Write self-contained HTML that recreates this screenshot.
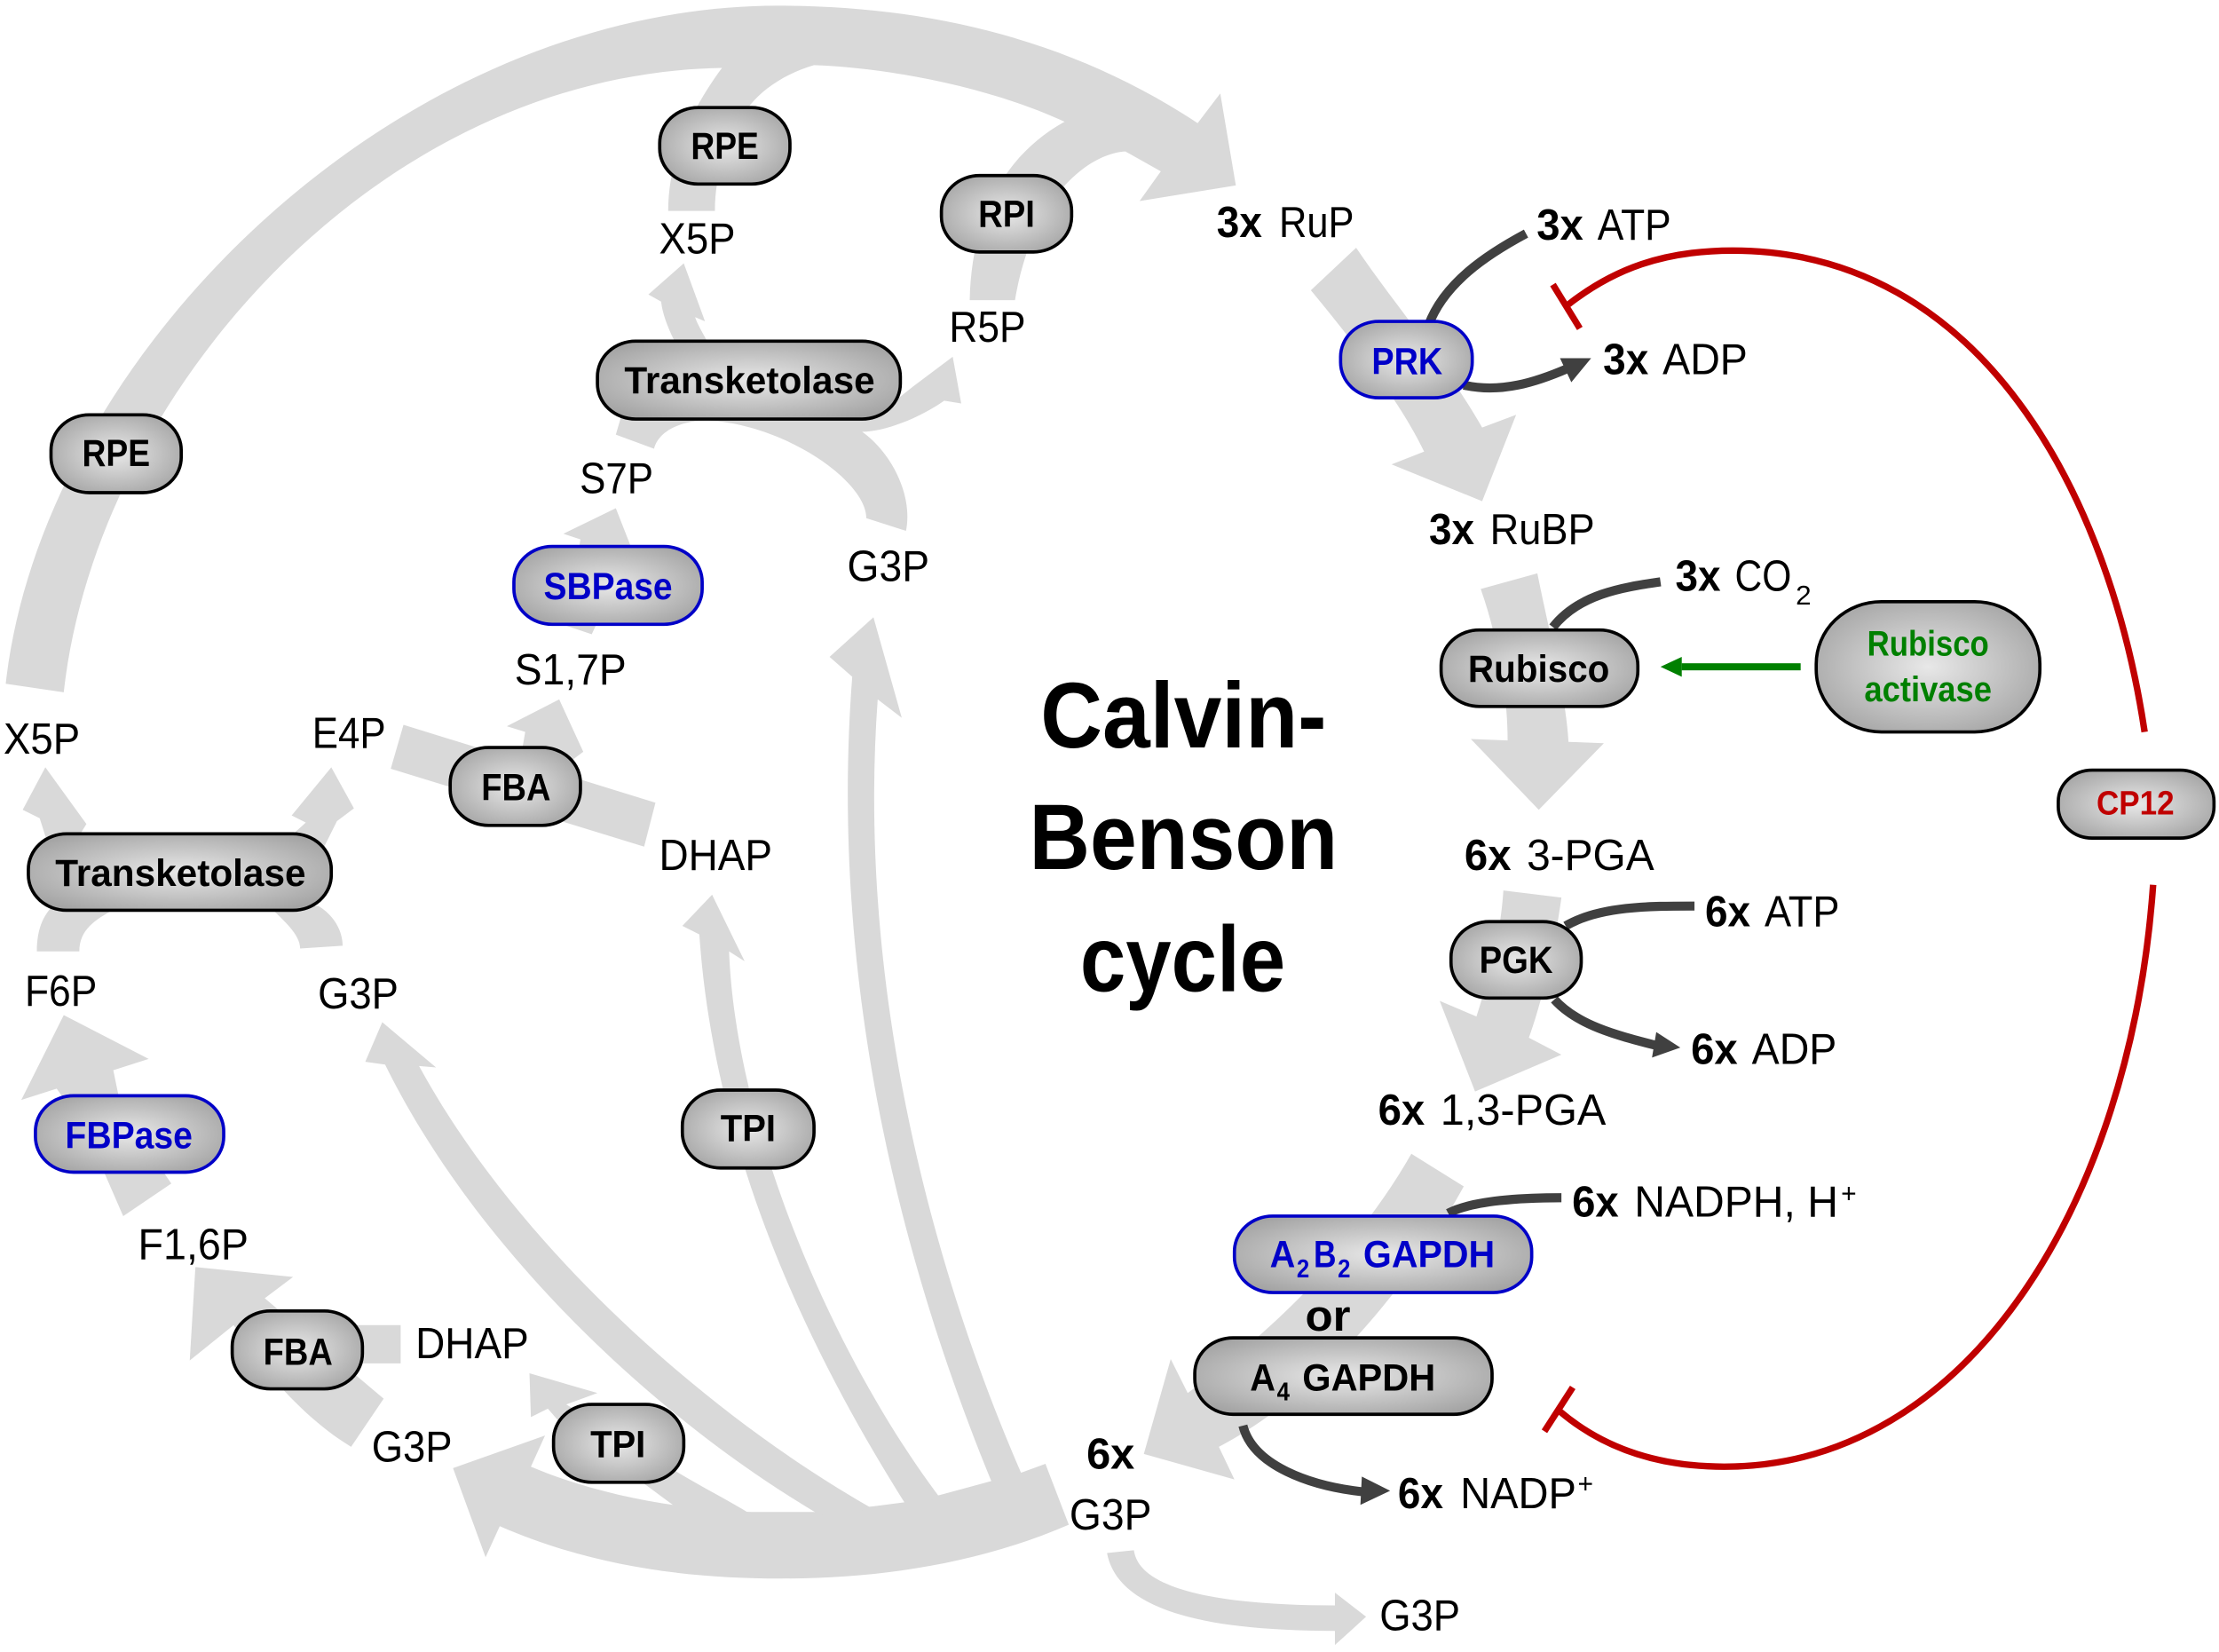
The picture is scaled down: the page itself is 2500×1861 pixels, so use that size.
<!DOCTYPE html>
<html><head><meta charset="utf-8"><title>Calvin-Benson cycle</title>
<style>
html,body{margin:0;padding:0;background:#fff}
svg{display:block}
text{font-family:"Liberation Sans",sans-serif;fill:#000}
.l{font-size:31px}
.b{font-size:31px;font-weight:bold}
.s{font-size:19px}
.n{font-size:27px;font-weight:bold}
.ns{font-size:18px;font-weight:bold}
.t{font-size:66px;font-weight:bold}
.blue{fill:#0000c8}
.green{fill:#008000}
.red{fill:#c00000}
.g{fill:#d9d9d9}
.d{fill:none;stroke:#404040;stroke-width:6.4}
.r{fill:none;stroke:#c00000;stroke-width:4.6}
.k{fill:url(#ng);stroke:#000;stroke-width:2.3}
.kb{fill:url(#ng);stroke:#0000c8;stroke-width:2.3}
</style></head><body>
<svg xmlns="http://www.w3.org/2000/svg" width="2500" height="1861" viewBox="0 0 1567.5 1166.9">
<defs><radialGradient id="ng" cx=".5" cy=".5" r=".6"><stop offset="0" stop-color="#e8e8e8"/><stop offset=".5" stop-color="#c6c6c6"/><stop offset="1" stop-color="#a4a4a4"/></radialGradient></defs>
<rect width="1567.5" height="1166.9" fill="#fff"/>

<!-- grey flux arrows -->
<path class="g" d="M4,483 C30,250 280,4 550,4 C660,4 760,30 846,87 L862,66 L873,131 L805,142 L820,121 L795,107 C772,108 730,135 717,212 L685,212 C686,160 705,112 752,86 C700,62 630,48 575,46 C555,52 540,62 530,74 C515,95 505,120 505,149 L472,149 C472,110 490,75 510,48 C265,52 68,280 45,489 Z"/>
<path class="g" d="M483,186 L498,227 L491,224 C493,230 497,236 500,242 L477,242 C472,232 468,222 467,213 L458,208 Z"/>
<path class="g" d="M440,290 L435,307 L462,317 C465,305 480,297 500,297 C555,300 612,340 612,366 L640,375 C645,350 630,320 609,305 C625,305 650,295 667,283 L679,285 L673,252 L645,273 L630,285 Z"/>
<path class="g" d="M435,359 L398,377 L410,381 L400,442 L418,448 L446,387 Z"/>
<path class="g" d="M395,494 L358,513 L371,517 L367,540 L400,540 L412,531 Z"/>
<path class="g" d="M285,512 L463,567 L455,598 L276,543 Z"/>
<path class="g" d="M32,542 L61,582 L50,600 L35,600 L28,578 L16,572 Z"/>
<path class="g" d="M234,542 L250,571 L238,580 L228,600 L195,600 L216,581 L206,576 Z"/>
<path class="g" d="M26,672 C26,650 35,638 50,632 L85,640 C70,648 56,655 56,672 Z"/>
<path class="g" d="M212,670 C212,660 200,650 190,640 L225,640 C238,648 242,660 242,668 Z"/>
<path class="g" d="M45,717 L105,748 L80,756 L87,790 L55,790 L40,769 L15,777 Z"/>
<path class="g" d="M70,820 L87,859 L121,836 L110,820 Z"/>
<path class="g" d="M138,895 L207,902 L187,917 L271,988 L248,1022 C220,1005 190,975 165,936 L134,961 Z"/>
<path class="g" d="M240,936 H283 V963 H240 Z"/>
<path class="g" d="M320,1037 L385,1014 L375,1036 C420,1055 475,1066 531,1068 L579,1068 L617,1064 L640,1061 L664,1056 L701,1046 L722,1040 L738.5,1034 L755,1077 C690,1105 620,1115 552,1115 C480,1115 415,1105 353,1078 L343,1100 Z"/>
<path class="g" d="M374,970 L422,984 L400,992 L477,1039 C495,1050 515,1060 531,1070 L478,1065 L455,1048 L400,1010 L387,995 L375,1001 Z"/>
<path class="g" d="M270,722 L308,754 L296,753 C365,880 500,1000 617,1066 L579,1070 C460,1000 335,880 272,752 L258,750 Z"/>
<path class="g" d="M503,632 L526,679 L515,672 C520,800 590,960 664,1058 L640,1063 C575,960 505,820 494,660 L482,654 Z"/>
<path class="g" d="M617,436 L637,507 L620,494 C605,700 660,900 722,1042 L701,1048 C640,900 585,700 602,478 L586,464 Z"/>
<path class="g" d="M958,175 C985,215 1020,255 1047,302 L1071,293 L1047,354 L983,328 L1006,319 C990,285 955,240 926,205 Z"/>
<path class="g" d="M1046,416 L1086,405 C1095,450 1106,490 1108,524 L1133,525 L1087,572 L1039,522 L1065,523 C1065,490 1058,450 1046,416 Z"/>
<path class="g" d="M1062,629 L1103,634 C1098,670 1090,705 1080,733 L1103,745 L1042,771 L1017,707 L1043,718 C1052,690 1060,660 1062,629 Z"/>
<path class="g" d="M997,815 L1034,838 C1000,900 940,980 861,1022 L872,1045 L808,1027 L827,960 L839,984 C900,940 960,880 997,815 Z"/>
<path class="g" d="M782,1097 L801,1095 C805,1125 870,1134 943,1134 L943,1125 L965,1142 L943,1162 L943,1152 C860,1152 790,1140 782,1097 Z"/>

<!-- dark cofactor connectors -->
<path class="d" d="M1009,230 C1020,200 1050,180 1078,165"/>
<path class="d" d="M1034,272 C1060,278 1085,270 1108,260"/>
<polygon fill="#404040" points="1124,253 1102,253 1110,270"/>
<path class="d" d="M1097,443 C1115,420 1145,415 1173,411"/>
<path class="d" d="M1106,654 C1130,640 1165,640 1197,640"/>
<path class="d" d="M1098,706 C1115,725 1145,732 1172,739"/>
<polygon fill="#404040" points="1187,740 1170,729 1167,747"/>
<path class="d" d="M1023,857 C1040,848 1075,846 1103,846"/>
<path class="d" d="M878,1007 C885,1035 925,1050 965,1054"/>
<polygon fill="#404040" points="982,1053 962,1043 961,1063"/>

<!-- green activation -->
<rect x="1188" y="468.5" width="84" height="5" fill="#008000"/>
<polygon fill="#008000" points="1173,471 1188,464 1188,478"/>

<!-- red inhibition -->
<path class="r" d="M1515,517 C1490,350 1400,177 1224,177 C1175,177 1140,190 1108,215"/>
<path class="r" d="M1097,201 L1116,232"/>
<path class="r" d="M1521,625 C1505,850 1390,1036 1218,1036 C1175,1036 1135,1025 1102,997"/>
<path class="r" d="M1111,980 L1091,1011"/>

<!-- enzyme nodes -->
<rect class="k" x="466" y="76" width="92" height="54" rx="27" ry="25"/>
<rect class="k" x="665" y="124" width="92" height="54" rx="27" ry="25"/>
<rect class="k" x="422" y="241" width="214" height="55" rx="27" ry="25"/>
<rect class="k" x="36" y="293" width="92" height="55" rx="27" ry="25"/>
<rect class="kb" x="363" y="386" width="133" height="55" rx="27" ry="25"/>
<rect class="k" x="318" y="528" width="92" height="55" rx="27" ry="25"/>
<rect class="k" x="20" y="589" width="214" height="54" rx="27" ry="25"/>
<rect class="kb" x="25" y="774" width="133" height="54" rx="27" ry="25"/>
<rect class="k" x="482" y="770" width="93" height="55" rx="27" ry="25"/>
<rect class="k" x="164" y="926" width="92" height="55" rx="27" ry="25"/>
<rect class="k" x="391" y="992" width="92" height="55" rx="27" ry="25"/>
<rect class="kb" x="947" y="227" width="93" height="54" rx="27" ry="25"/>
<rect class="k" x="1018" y="445" width="139" height="54" rx="27" ry="25"/>
<rect class="k" x="1283" y="425" width="158" height="92" rx="46" ry="44"/>
<rect class="k" x="1454" y="544" width="110" height="48" rx="24" ry="22"/>
<rect class="k" x="1025" y="651" width="92" height="54" rx="27" ry="25"/>
<rect class="kb" x="872" y="859" width="210" height="54" rx="27" ry="25"/>
<rect class="k" x="844" y="945" width="210" height="54" rx="27" ry="25"/>

<!-- node labels -->
<g transform="translate(0,-0.8)">
<text class="n" x="488" y="113" textLength="48" lengthAdjust="spacingAndGlyphs">RPE</text>
<text class="n" x="691" y="161" textLength="40" lengthAdjust="spacingAndGlyphs">RPI</text>
<text class="n" x="441" y="278.5" textLength="177" lengthAdjust="spacingAndGlyphs">Transketolase</text>
<text class="n" x="58" y="330" textLength="48" lengthAdjust="spacingAndGlyphs">RPE</text>
<text class="n blue" x="384" y="424" textLength="91" lengthAdjust="spacingAndGlyphs">SBPase</text>
<text class="n" x="340" y="566" textLength="49" lengthAdjust="spacingAndGlyphs">FBA</text>
<text class="n" x="39" y="626.5" textLength="177" lengthAdjust="spacingAndGlyphs">Transketolase</text>
<text class="n blue" x="46" y="812" textLength="90" lengthAdjust="spacingAndGlyphs">FBPase</text>
<text class="n" x="509" y="807" textLength="39" lengthAdjust="spacingAndGlyphs">TPI</text>
<text class="n" x="186" y="965" textLength="49" lengthAdjust="spacingAndGlyphs">FBA</text>
<text class="n" x="417" y="1030" textLength="39" lengthAdjust="spacingAndGlyphs">TPI</text>
<text class="n blue" x="969" y="265" textLength="50" lengthAdjust="spacingAndGlyphs">PRK</text>
<text class="n" x="1037" y="482.5" textLength="100" lengthAdjust="spacingAndGlyphs">Rubisco</text>
<text class="n green" x="1319" y="464" textLength="86" lengthAdjust="spacingAndGlyphs" style="font-size:25px">Rubisco</text>
<text class="n green" x="1317" y="496" textLength="90" lengthAdjust="spacingAndGlyphs" style="font-size:25px">activase</text>
<text class="n red" x="1481" y="576" textLength="55" lengthAdjust="spacingAndGlyphs" style="font-size:24px">CP12</text>
<text class="n" x="1045" y="688" textLength="52" lengthAdjust="spacingAndGlyphs">PGK</text>
<text class="n blue" x="897" y="896" textLength="18" lengthAdjust="spacingAndGlyphs">A</text>
<text class="ns blue" x="916" y="903" textLength="9" lengthAdjust="spacingAndGlyphs">2</text>
<text class="n blue" x="928" y="896" textLength="16" lengthAdjust="spacingAndGlyphs">B</text>
<text class="ns blue" x="945" y="903" textLength="9" lengthAdjust="spacingAndGlyphs">2</text>
<text class="n blue" x="963" y="896" textLength="93" lengthAdjust="spacingAndGlyphs">GAPDH</text>
<text class="n" x="883" y="983" textLength="18" lengthAdjust="spacingAndGlyphs">A</text>
<text class="ns" x="902" y="990" textLength="9" lengthAdjust="spacingAndGlyphs">4</text>
<text class="n" x="920" y="983" textLength="94" lengthAdjust="spacingAndGlyphs">GAPDH</text>
</g>
<text class="b" x="922" y="940" textLength="32" lengthAdjust="spacingAndGlyphs">or</text>

<!-- metabolite labels -->
<g transform="translate(-0.5,-0.6)">
<text class="l" x="466" y="179.6" textLength="54" lengthAdjust="spacingAndGlyphs">X5P</text>
<text class="l" x="671" y="242" textLength="54" lengthAdjust="spacingAndGlyphs">R5P</text>
<text class="l" x="410" y="349" textLength="52" lengthAdjust="spacingAndGlyphs">S7P</text>
<text class="l" x="599" y="411" textLength="58" lengthAdjust="spacingAndGlyphs">G3P</text>
<text class="l" x="364" y="484" textLength="79" lengthAdjust="spacingAndGlyphs">S1,7P</text>
<text class="l" x="3" y="533" textLength="54" lengthAdjust="spacingAndGlyphs">X5P</text>
<text class="l" x="221" y="529" textLength="52" lengthAdjust="spacingAndGlyphs">E4P</text>
<text class="l" x="466" y="615" textLength="80" lengthAdjust="spacingAndGlyphs">DHAP</text>
<text class="l" x="18" y="711" textLength="51" lengthAdjust="spacingAndGlyphs">F6P</text>
<text class="l" x="225" y="713" textLength="57" lengthAdjust="spacingAndGlyphs">G3P</text>
<text class="l" x="98" y="890" textLength="78" lengthAdjust="spacingAndGlyphs">F1,6P</text>
<text class="l" x="294" y="960" textLength="80" lengthAdjust="spacingAndGlyphs">DHAP</text>
<text class="l" x="263" y="1033" textLength="57" lengthAdjust="spacingAndGlyphs">G3P</text>
<text class="b" x="768" y="1038" textLength="34" lengthAdjust="spacingAndGlyphs">6x</text>
<text class="l" x="756" y="1081" textLength="58" lengthAdjust="spacingAndGlyphs">G3P</text>
<text class="l" x="975" y="1152" textLength="57" lengthAdjust="spacingAndGlyphs">G3P</text>

<text class="b" x="860" y="168" textLength="32" lengthAdjust="spacingAndGlyphs">3x</text>
<text class="l" x="904" y="168" textLength="53" lengthAdjust="spacingAndGlyphs">RuP</text>
<text class="b" x="1086" y="170" textLength="33" lengthAdjust="spacingAndGlyphs">3x</text>
<text class="l" x="1129" y="170" textLength="52" lengthAdjust="spacingAndGlyphs">ATP</text>
<text class="b" x="1133" y="265" textLength="32" lengthAdjust="spacingAndGlyphs">3x</text>
<text class="l" x="1175" y="265" textLength="60" lengthAdjust="spacingAndGlyphs">ADP</text>
<text class="b" x="1010" y="385" textLength="32" lengthAdjust="spacingAndGlyphs">3x</text>
<text class="l" x="1053" y="385" textLength="74" lengthAdjust="spacingAndGlyphs">RuBP</text>
<text class="b" x="1184" y="418" textLength="32" lengthAdjust="spacingAndGlyphs">3x</text>
<text class="l" x="1226" y="418" textLength="40" lengthAdjust="spacingAndGlyphs">CO</text>
<text class="s" x="1269" y="427.5" textLength="11" lengthAdjust="spacingAndGlyphs">2</text>
<text class="b" x="1035" y="615" textLength="33" lengthAdjust="spacingAndGlyphs">6x</text>
<text class="l" x="1079" y="615" textLength="90" lengthAdjust="spacingAndGlyphs">3-PGA</text>
<text class="b" x="1205" y="655" textLength="32" lengthAdjust="spacingAndGlyphs">6x</text>
<text class="l" x="1247" y="655" textLength="53" lengthAdjust="spacingAndGlyphs">ATP</text>
<text class="b" x="1195" y="752" textLength="33" lengthAdjust="spacingAndGlyphs">6x</text>
<text class="l" x="1238" y="752" textLength="60" lengthAdjust="spacingAndGlyphs">ADP</text>
<text class="b" x="974" y="795" textLength="33" lengthAdjust="spacingAndGlyphs">6x</text>
<text class="l" x="1018" y="795" textLength="117" lengthAdjust="spacingAndGlyphs">1,3-PGA</text>
<text class="b" x="1111" y="860" textLength="33" lengthAdjust="spacingAndGlyphs">6x</text>
<text class="l" x="1155" y="860" textLength="144" lengthAdjust="spacingAndGlyphs">NADPH, H</text>
<text class="s" x="1301" y="850" textLength="11" lengthAdjust="spacingAndGlyphs">+</text>
<text class="b" x="988" y="1066" textLength="32" lengthAdjust="spacingAndGlyphs">6x</text>
<text class="l" x="1032" y="1066" textLength="82" lengthAdjust="spacingAndGlyphs">NADP</text>
<text class="s" x="1115" y="1055" textLength="11" lengthAdjust="spacingAndGlyphs">+</text>
</g>

<!-- title -->
<text class="t" x="735" y="528" textLength="202" lengthAdjust="spacingAndGlyphs">Calvin-</text>
<text class="t" x="727" y="614" textLength="218" lengthAdjust="spacingAndGlyphs">Benson</text>
<text class="t" x="763" y="700" textLength="145" lengthAdjust="spacingAndGlyphs">cycle</text>
</svg>
</body></html>
